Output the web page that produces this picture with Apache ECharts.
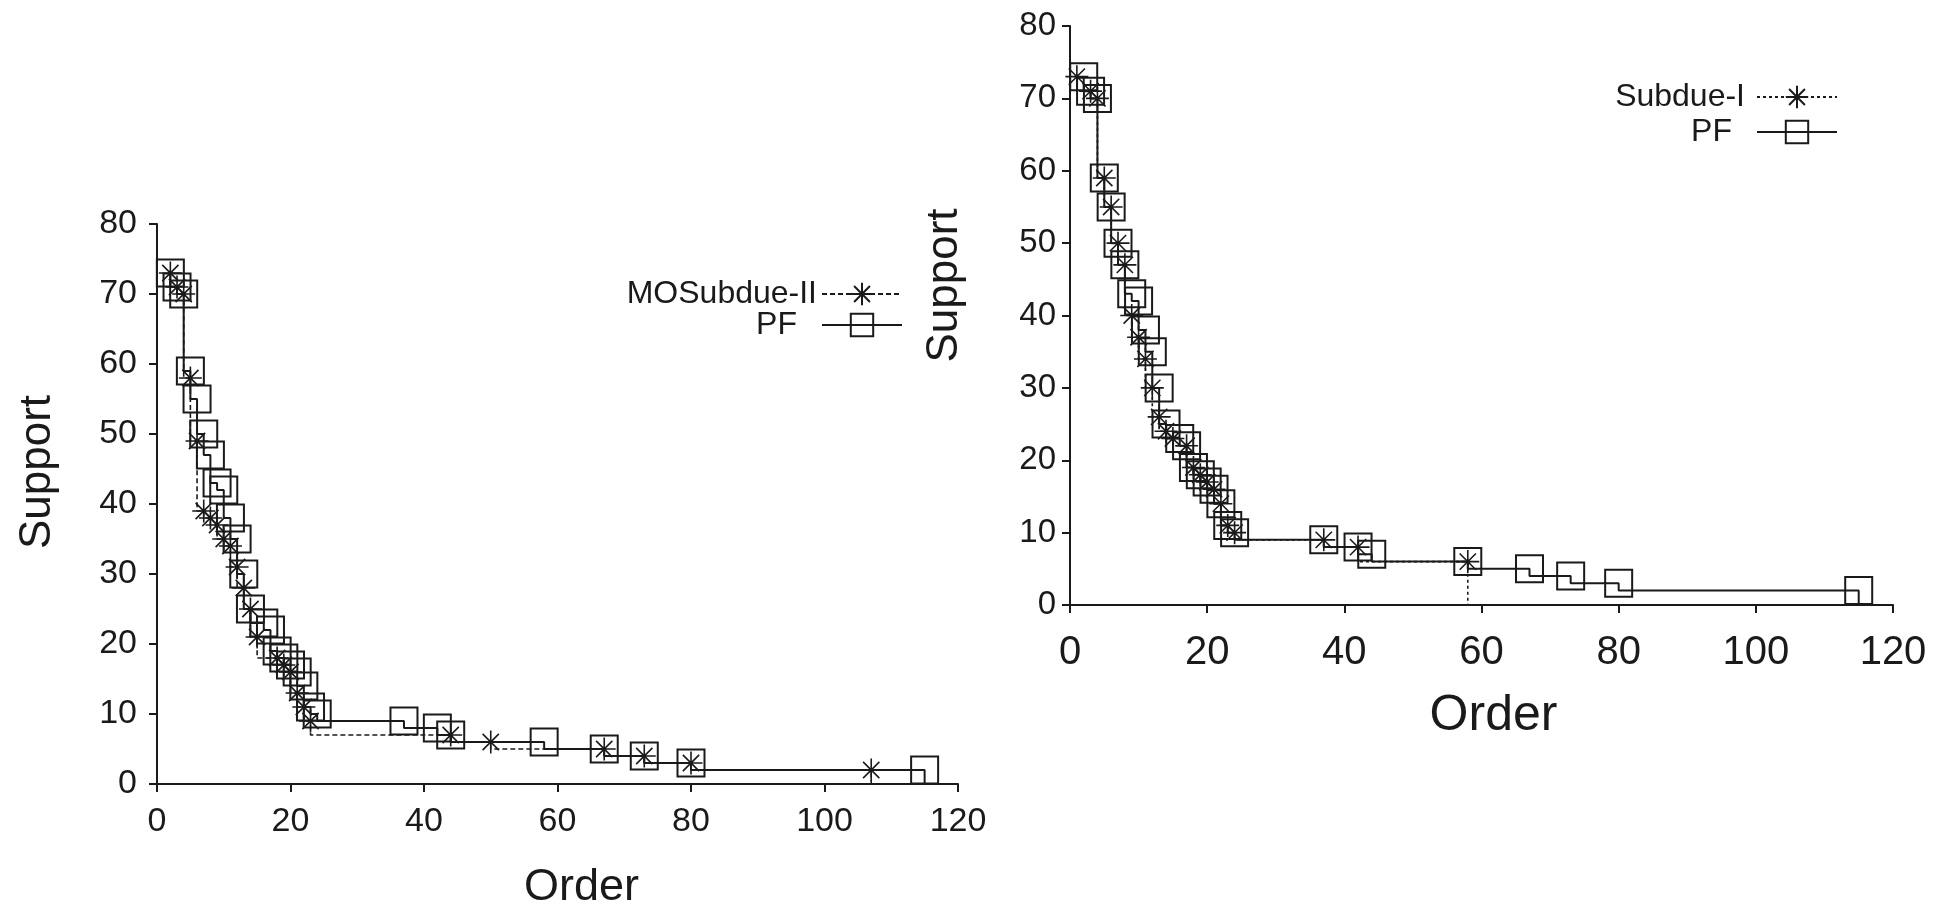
<!DOCTYPE html>
<html>
<head>
<meta charset="utf-8">
<title>Support vs Order</title>
<script src="https://cdn.jsdelivr.net/npm/echarts@6/dist/echarts.min.js"></script>
<style>
  html, body { margin: 0; padding: 0; background: #fff; }
  #chart { width: 1948px; height: 904px; }
</style>
</head>
<body>
<div id="chart"></div>
<script>
  // [order, support] pairs
  const moSubdueII = [
    [2, 73], [3, 71], [4, 70], [5, 58], [6, 49], [7, 39], [8, 38], [9, 37], [10, 35],
    [11, 34], [12, 31], [13, 28], [14, 25], [15, 21], [18, 18], [19, 17], [20, 16],
    [21, 13], [22, 11], [23, 9], [44, 7], [50, 6], [67, 5], [73, 4], [80, 3], [107, 2]
  ];
  const subdueI = [
    [1, 73], [3, 71], [4, 70], [5, 59], [6, 55], [7, 50], [8, 47], [9, 40], [10, 37],
    [11, 34], [12, 30], [13, 26], [14, 24], [15, 23], [17, 22], [18, 19], [19, 18],
    [20, 17], [21, 16], [22, 14], [23, 11], [24, 10], [37, 9], [42, 8], [58, 6]
  ];
  const pf = [
    [2, 73], [3, 71], [4, 70], [5, 59], [6, 55], [7, 50], [8, 47], [9, 43], [10, 42],
    [11, 38], [12, 35], [13, 30], [14, 25], [16, 23], [17, 22], [18, 19], [19, 18],
    [20, 17], [21, 16], [22, 14], [23, 11], [24, 10], [37, 9], [42, 8], [44, 7],
    [58, 6], [67, 5], [73, 4], [80, 3], [115, 2]
  ];
  const xTicks = [0, 20, 40, 60, 80, 100, 120];
  const yTicks = [0, 10, 20, 30, 40, 50, 60, 70, 80];

  const ink = '#1a1a1a';
  const sans = '"Liberation Sans", Arial, sans-serif';
  const star = 'path://M0,-10L0,10M-10,0L10,0M-7.07,-7.07L7.07,7.07M-7.07,7.07L7.07,-7.07';

  // gnuplot-style curves fall to zero after their last point
  function withDrop(pts) {
    const last = pts[pts.length - 1];
    return pts.concat([{ value: [last[0], 0], symbol: 'none' }]);
  }

  // shift is how far the axis title sits off the middle of the axis
  function xAxis(idx, size, margin, nameSize, nameGap, shift) {
    return {
      gridIndex: idx, type: 'value', min: xTicks[0], max: xTicks[xTicks.length - 1], interval: 20,
      name: 'Order', nameLocation: 'middle', nameGap: nameGap,
      nameTextStyle: { fontFamily: sans, fontSize: nameSize, color: ink, padding: [0, 0, 0, shift * 2] },
      axisLine: { onZero: false, lineStyle: { color: ink, width: 2 } },
      axisTick: { length: 8, lineStyle: { color: ink, width: 2 } },
      axisLabel: { fontFamily: sans, fontSize: size, color: ink, margin: margin },
      splitLine: { show: false }
    };
  }
  function yAxis(idx, size, margin, nameGap, shift) {
    return {
      gridIndex: idx, type: 'value', min: yTicks[0], max: yTicks[yTicks.length - 1], interval: 10,
      name: 'Support', nameLocation: 'middle', nameGap: nameGap,
      nameTextStyle: { fontFamily: sans, fontSize: 44, color: ink, padding: [0, 0, 0, shift * 2] },
      axisLine: { onZero: false, lineStyle: { color: ink, width: 2 } },
      axisTick: { length: 8, lineStyle: { color: ink, width: 2 } },
      axisLabel: { fontFamily: sans, fontSize: size, color: ink, margin: margin },
      splitLine: { show: false }
    };
  }
  function legend(name, right, top, gap) {
    return {
      data: [name], right: right, top: top, padding: 0, align: 'right',
      itemWidth: 80, itemHeight: 28,
      textStyle: { fontFamily: sans, fontSize: 32, color: ink, padding: [0, gap, 0, 0] }
    };
  }
  function starSeries(name, idx, pts, dash) {
    return {
      name: name, type: 'line', step: 'start', xAxisIndex: idx, yAxisIndex: idx,
      data: withDrop(pts), symbol: star, symbolSize: 23,
      itemStyle: { color: 'transparent', borderColor: ink, borderWidth: 1.6 },
      lineStyle: { color: ink, width: 1.6, type: dash }
    };
  }
  function pfSeries(idx) {
    return {
      name: 'PF', type: 'line', step: 'start', xAxisIndex: idx, yAxisIndex: idx,
      data: withDrop(pf), symbol: 'rect', symbolSize: 27,
      itemStyle: { color: 'transparent', borderColor: ink, borderWidth: 2 },
      lineStyle: { color: ink, width: 2, type: 'solid' }
    };
  }

  let myChart = echarts.init(document.getElementById('chart'));
  myChart.setOption({
    animation: false,
    backgroundColor: '#fff',
    grid: [
      { left: 157, top: 224, width: 801, height: 560, outerBoundsMode: 'none' },
      { left: 1070, top: 26, width: 823, height: 579, outerBoundsMode: 'none' }
    ],
    xAxis: [xAxis(0, 34, 21, 45, 81, 24), xAxis(1, 40, 28, 50, 86, 12)],
    yAxis: [yAxis(0, 34, 20, 97, 32), yAxis(1, 33, 14, 103, 30)],
    legend: [
      legend('MOSubdue-II', 1045, 278, 0),
      legend('PF', 1045, 309, 20),
      legend('Subdue-I', 110, 81, 7),
      legend('PF', 110, 116, 20)
    ],
    series: [
      starSeries('MOSubdue-II', 0, moSubdueII, [5, 3]),
      pfSeries(0),
      starSeries('Subdue-I', 1, subdueI, [3, 3]),
      pfSeries(1)
    ]
  });

  window.addEventListener('resize', () => {
    myChart.resize();
  });
</script>
</body>
</html>
